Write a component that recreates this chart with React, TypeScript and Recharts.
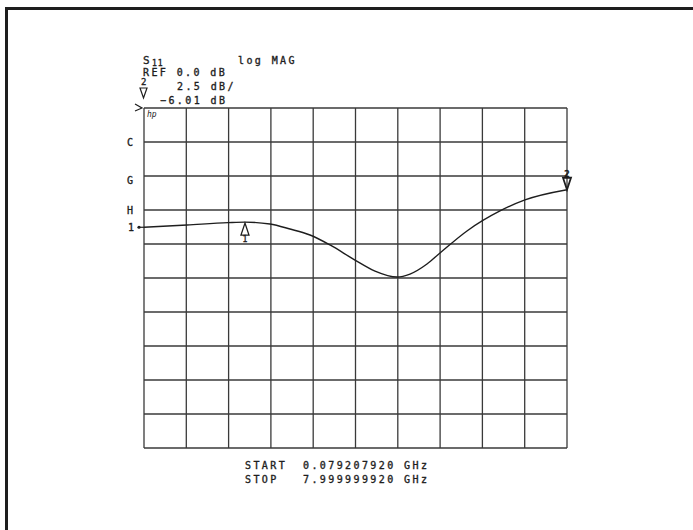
import { Line, LineChart, ReferenceDot, ReferenceLine, XAxis, YAxis } from 'recharts'

// S11 log-magnitude sweep, 0.0792 – 8.0 GHz
const freqGHz = [
  0.0792, 0.884, 1.652, 1.97, 2.438, 2.813, 3.187, 3.562, 4.03, 4.405, 4.817, 5.06, 5.378, 5.622,
  6.127, 6.745, 7.213, 8.0,
]
const s11dB = [
  -8.77, -8.6, -8.43, -8.39, -8.53, -8.9, -9.34, -10.07, -11.18, -11.99, -12.43, -12.21, -11.47,
  -10.66, -9.04, -7.57, -6.76, -6.01,
]

// vertical graticule: 10 divisions between start and stop
const xGridGHz = [0.0792, 0.8713, 1.6634, 2.4554, 3.2475, 4.0396, 4.8317, 5.6238, 6.4158, 7.2079, 8.0]
// REF 0.0 dB at the top line, 2.5 dB/div
const yGridDB = [0, -2.5, -5, -7.5, -10, -12.5, -15, -17.5, -20, -22.5, -25]
// letters the plotter writes beside graticule lines
const letterLevels = [-2.5, -5, -7.5]
const letterNames = ['C', 'G', 'H']

const marker1 = { f: 1.97, db: -8.39, label: '1' }
const marker2 = { f: 8.0, db: -6.01, label: '2' }

const startText = '0.079207920 GHz'
const stopText = '7.999999920 GHz'

const data = freqGHz.map((f, i) => ({ f, db: s11dB[i] }))

const INK = '#1e1e1e'
const GRID = '#3a3a3a'
const MONO = '"DejaVu Sans Mono", "Liberation Mono", monospace'
const textStyle = {
  fontFamily: MONO,
  fontSize: 10,
  letterSpacing: 2.4,
  fill: INK,
  stroke: INK,
  strokeWidth: 0.35,
}

function LetterMark(props: any) {
  const { cx, cy, name } = props
  const dy = name === 'G' ? 8 : 4
  return (
    <text x={cx - 14} y={cy + dy} textAnchor="middle" style={{ ...textStyle, letterSpacing: 0 }}>
      {name}
    </text>
  )
}

function UpMarker(props: any) {
  const { cx, cy } = props
  return (
    <g>
      <path d={`M${cx},${cy + 1} L${cx - 4},${cy + 13} L${cx + 4},${cy + 13} Z`} fill="none" stroke={INK} strokeWidth={1.3} />
      <text x={cx} y={cy + 20} textAnchor="middle" style={{ ...textStyle, fontSize: 8, letterSpacing: 0 }}>
        {marker1.label}
      </text>
    </g>
  )
}

function DownMarker(props: any) {
  const { cx, cy } = props
  return (
    <g>
      <path d={`M${cx},${cy} L${cx - 4},${cy - 12} L${cx + 4},${cy - 12} Z`} fill="none" stroke={INK} strokeWidth={1.8} />
      <text x={cx} y={cy - 13} textAnchor="middle" style={{ ...textStyle, fontSize: 9, fontWeight: 700, letterSpacing: 0 }}>
        {marker2.label}
      </text>
    </g>
  )
}

function StartArrow(props: any) {
  const { cx, cy } = props
  return (
    <g>
      <text x={cx - 13} y={cy + 4} textAnchor="middle" style={{ ...textStyle, letterSpacing: 0 }}>
        1
      </text>
      <circle cx={cx - 5} cy={cy} r={1.6} fill={INK} />
      <line x1={cx - 6} y1={cy} x2={cx} y2={cy} stroke={INK} strokeWidth={1.2} />
    </g>
  )
}

function RefArrow(props: any) {
  const { cx, cy } = props
  return (
    <g>
      <path d={`M${cx - 9},${cy - 4} L${cx - 2},${cy} L${cx - 9},${cy + 3}`} fill="none" stroke={INK} strokeWidth={1.2} />
      <text x={cx + 3} y={cy + 9} fill={INK} fontFamily={MONO} fontSize={8} fontStyle="italic">
        hp
      </text>
    </g>
  )
}

export default function App() {
  return (
    <div style={{ position: 'absolute', left: 0, top: 0, width: 693, height: 530, background: '#fff' }}>
      <div style={{ position: 'absolute', left: 5, top: 7, width: 688, height: 3, background: INK }} />
      <div style={{ position: 'absolute', left: 5, top: 7, width: 3, height: 523, background: INK }} />
      <LineChart
        width={693}
        height={530}
        data={data}
        margin={{ top: 108, right: 126, bottom: 82, left: 144 }}
        style={{ position: 'absolute', left: 0, top: 0 }}
      >
        <XAxis
          type="number"
          dataKey="f"
          domain={[xGridGHz[0], xGridGHz[xGridGHz.length - 1]]}
          ticks={xGridGHz}
          height={0}
          tick={false}
          axisLine={false}
          tickLine={false}
          allowDataOverflow
        />
        <YAxis
          type="number"
          domain={[-25, 0]}
          ticks={yGridDB}
          width={0}
          axisLine={false}
          tickLine={false}
          tick={false}
          allowDataOverflow
        />
        {/* graticule */}
        {xGridGHz.map((f) => (
          <ReferenceLine key={`x${f}`} x={f} stroke={GRID} strokeWidth={1.3} />
        ))}
        {yGridDB.map((db) => (
          <ReferenceLine key={`y${db}`} y={db} stroke={GRID} strokeWidth={1.3} />
        ))}
        <Line
          type="monotone"
          dataKey="db"
          stroke={INK}
          strokeWidth={1.4}
          dot={false}
          isAnimationActive={false}
        />
        {letterLevels.map((db, i) => (
          <ReferenceDot key={db} x={xGridGHz[0]} y={db} shape={<LetterMark name={letterNames[i]} />} />
        ))}
        <ReferenceDot x={xGridGHz[0]} y={0} shape={<RefArrow />} />
        <ReferenceDot x={freqGHz[0]} y={s11dB[0]} shape={<StartArrow />} />
        <ReferenceDot x={marker1.f} y={marker1.db} shape={<UpMarker />} />
        <ReferenceDot x={marker2.f} y={marker2.db} shape={<DownMarker />} />
      </LineChart>
      <svg width={693} height={530} style={{ position: 'absolute', left: 0, top: 0, pointerEvents: 'none' }}>
        <text x={143} y={64} style={{ ...textStyle, fontSize: 11 }}>
          S
          <tspan dy={2} style={{ fontSize: 8, letterSpacing: 1 }}>
            11
          </tspan>
        </text>
        <text x={238} y={64} style={textStyle}>
          log MAG
        </text>
        <text x={143} y={76} style={textStyle}>
          REF 0.0 dB
        </text>
        <text x={141} y={85} style={{ ...textStyle, fontSize: 9, letterSpacing: 0 }}>
          2
        </text>
        <text x={177} y={90} style={textStyle}>
          2.5 dB/
        </text>
        <path d="M140,88 L147,88 L143.5,98 Z" fill="none" stroke={INK} strokeWidth={1.2} />
        <text x={160} y={104} style={textStyle}>
          −6.01 dB
        </text>
        <text x={245} y={469} style={textStyle}>
          START
        </text>
        <text x={303} y={469} style={textStyle}>
          {startText}
        </text>
        <text x={245} y={483} style={textStyle}>
          STOP
        </text>
        <text x={303} y={483} style={textStyle}>
          {stopText}
        </text>
      </svg>
    </div>
  )
}
